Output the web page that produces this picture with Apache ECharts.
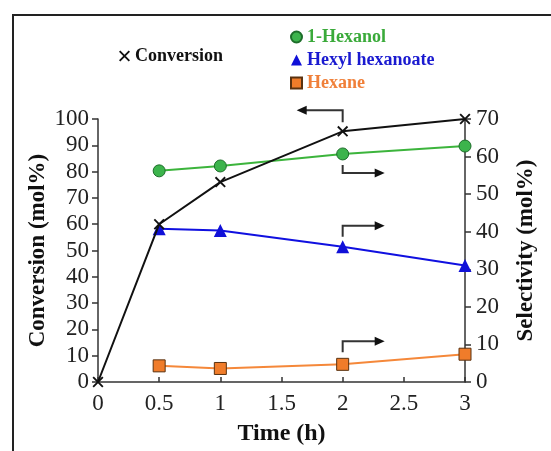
<!DOCTYPE html>
<html>
<head>
<meta charset="utf-8">
<script src="https://cdn.jsdelivr.net/npm/echarts@6/dist/echarts.min.js"></script>
<style>
  html, body { margin: 0; padding: 0; background: #fff; }
  #main { width: 551px; height: 451px; }
</style>
</head>
<body>
<div id="main"></div>
<script>
// time (h)
var times = [0, 0.5, 1, 2, 3];
var selTimes = [0.5, 1, 2, 3];
// conversion, mol% (left axis)
var conversion = [0, 60, 76, 95.3, 100];
// selectivity, mol% (right axis)
var hexanol = [56.2, 57.5, 60.7, 62.8];
var hexylHexanoate = [40.8, 40.3, 36, 31];
var hexane = [4.3, 3.6, 4.7, 7.4];

var serif = '"Liberation Serif", "DejaVu Serif", serif';
var axisColor = '#333';
var crossPath = 'path://M0,1.2L1.2,0L10,8.8L8.8,10Z M8.8,0L10,1.2L1.2,10L0,8.8Z';

function pairs(xs, ys) {
  return xs.map(function (x, i) { return [x, ys[i]]; });
}

var chart = echarts.init(document.getElementById('main'), null, { renderer: 'canvas' });

var option = {
  animation: false,
  backgroundColor: '#fff',
  grid: { left: 98, right: 86, top: 119, bottom: 69 },
  legend: [{
    left: 114, top: 41,
    itemWidth: 11, itemHeight: 11, itemGap: 5,
    textStyle: { fontFamily: serif, fontWeight: 'bold', fontSize: 18, lineHeight: 20, color: '#111' },
    data: [{ name: 'Conversion', icon: crossPath }]
  }, {
    left: 285, top: 22, orient: 'vertical',
    itemWidth: 11, itemHeight: 11, itemGap: 3,
    textStyle: { fontFamily: serif, fontWeight: 'bold', fontSize: 18, lineHeight: 20 },
    data: [
      { name: '1-Hexanol', icon: 'circle', textStyle: { color: '#3aaa3a' } },
      { name: 'Hexyl hexanoate', icon: 'triangle', textStyle: { color: '#1a1ad0' } },
      { name: 'Hexane', icon: 'rect', textStyle: { color: '#f0803a' } }
    ]
  }],
  xAxis: {
    type: 'value', min: 0, max: 3, interval: 0.5,
    name: 'Time (h)', nameLocation: 'middle', nameGap: 40,
    nameTextStyle: { fontFamily: serif, fontWeight: 'bold', fontSize: 24, color: '#111' },
    axisLine: { lineStyle: { color: axisColor, width: 1.5 } },
    axisTick: { inside: true, length: 5, lineStyle: { color: axisColor, width: 1.5 } },
    axisLabel: { fontFamily: serif, fontSize: 23, color: '#222', margin: 10 },
    splitLine: { show: false }
  },
  yAxis: [{
    type: 'value', min: 0, max: 100, interval: 10,
    name: 'Conversion (mol%)', nameLocation: 'middle', nameGap: 48, nameMoveOverlap: false,
    nameTextStyle: { fontFamily: serif, fontWeight: 'bold', fontSize: 23, color: '#111' },
    axisLine: { show: true, lineStyle: { color: axisColor, width: 1.5 } },
    axisTick: { show: true, length: 6, lineStyle: { color: axisColor, width: 1.5 } },
    axisLabel: { fontFamily: serif, fontSize: 23, color: '#222', margin: 9 },
    splitLine: { show: false }
  }, {
    type: 'value', min: 0, max: 70, interval: 10, position: 'right',
    name: 'Selectivity (mol%)', nameLocation: 'middle', nameGap: 50,
    nameTextStyle: { fontFamily: serif, fontWeight: 'bold', fontSize: 23, color: '#111' },
    axisLine: { show: true, lineStyle: { color: axisColor, width: 1.5 } },
    axisTick: { show: true, length: 6, lineStyle: { color: axisColor, width: 1.5 } },
    axisLabel: { fontFamily: serif, fontSize: 23, color: '#222', margin: 11 },
    splitLine: { show: false }
  }],
  series: [{
    name: 'Conversion', type: 'line', yAxisIndex: 0,
    data: pairs(times, conversion),
    symbol: crossPath, symbolSize: 11,
    lineStyle: { color: '#111', width: 2 },
    itemStyle: { color: '#111' },
    z: 5
  }, {
    name: '1-Hexanol', type: 'line', yAxisIndex: 1,
    data: pairs(selTimes, hexanol),
    symbol: 'circle', symbolSize: 12,
    lineStyle: { color: '#3cb43c', width: 2 },
    itemStyle: { color: '#3cb44c', borderColor: '#1d6e2a', borderWidth: 1 }
  }, {
    name: 'Hexyl hexanoate', type: 'line', yAxisIndex: 1,
    data: pairs(selTimes, hexylHexanoate),
    symbol: 'triangle', symbolSize: 13,
    lineStyle: { color: '#1010e0', width: 2 },
    itemStyle: { color: '#1010d8' }
  }, {
    name: 'Hexane', type: 'line', yAxisIndex: 1,
    data: pairs(selTimes, hexane),
    symbol: 'rect', symbolSize: 12,
    lineStyle: { color: '#f5883a', width: 2 },
    itemStyle: { color: '#f07c2a', borderColor: '#5a3210', borderWidth: 1 }
  }]
};

chart.setOption(option);

// elbow arrows next to the t = 2 h points
function elbowArrow(axisIdx, value, dy1, dy2, dx) {
  var p = chart.convertToPixel({ xAxisIndex: 0, yAxisIndex: axisIdx }, [2, value]);
  var x = p[0], y1 = p[1] + dy1, y2 = p[1] + dy2, xe = x + dx;
  var dir = dx > 0 ? 1 : -1;
  return [{
    type: 'polyline',
    shape: { points: [[x, y1], [x, y2], [xe - dir * 8, y2]] },
    style: { stroke: '#333', lineWidth: 2, fill: null },
    z: 10
  }, {
    type: 'polygon',
    shape: { points: [[xe, y2], [xe - dir * 10, y2 - 4.5], [xe - dir * 10, y2 + 4.5]] },
    style: { fill: '#111' },
    z: 10
  }];
}

var graphics = [{
  type: 'rect',
  shape: { x: 13, y: 15, width: 600, height: 500 },
  style: { fill: null, stroke: '#222', lineWidth: 2 },
  z: 0
}];
graphics = graphics
  .concat(elbowArrow(0, conversion[3], -9, -21, -46))
  .concat(elbowArrow(1, hexanol[2], 11, 19, 42))
  .concat(elbowArrow(1, hexylHexanoate[2], -10, -21, 42))
  .concat(elbowArrow(1, hexane[2], -12, -23, 42));

chart.setOption({ graphic: graphics });
</script>
</body>
</html>
